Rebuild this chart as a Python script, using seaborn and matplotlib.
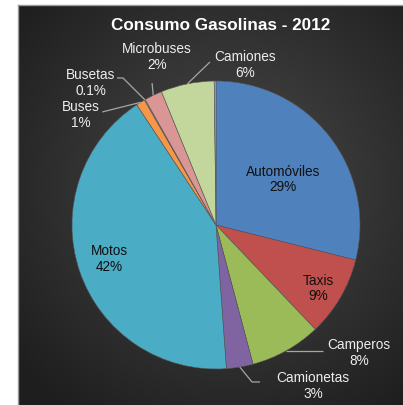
import numpy as np
import matplotlib
matplotlib.use("Agg")
import matplotlib.pyplot as plt
import seaborn as sns

# Gasoline consumption share by vehicle type, 2012
categorias = ["Automóviles", "Taxis", "Camperos", "Camionetas", "Motos",
              "Buses", "Busetas", "Microbuses", "Camiones", ""]
porcentajes = [29, 9, 8, 3, 42, 1, 0.1, 2, 6, 0.2]
colores_hex = ["#4F81BD", "#C0504D", "#9BBB59", "#8064A2", "#4BACC6",
               "#F79646", "#95B3D7", "#D99694", "#C3D69B", "#B3A2C7"]
titulo = "Consumo Gasolinas - 2012"

sns.set_theme(style="dark")
plt.rcParams["font.family"] = ["Liberation Sans", "DejaVu Sans"]
colores = sns.color_palette(colores_hex)

W, H = 403, 405
fig = plt.figure(figsize=(W / 100, H / 100), dpi=100)
fig.patch.set_facecolor("white")

# dark chart area with a soft radial gradient
bg_left, bg_top = 18, 5
bg = fig.add_axes([bg_left / W, 0, 1 - bg_left / W, 1 - bg_top / H])
bw, bh = W - bg_left, H - bg_top
yy, xx = np.mgrid[0:bh, 0:bw]
cx, cy = bw * 0.55, bh * 0.45
d = np.sqrt((xx - cx) ** 2 + (yy - cy) ** 2) / np.hypot(bw, bh) * 2.0
d = np.clip(d, 0, 1)
inner = np.array([0x4a, 0x4a, 0x4a]) / 255
outer = np.array([0x1e, 0x1e, 0x1e]) / 255
img = inner[None, None, :] * (1 - d[..., None]) + outer[None, None, :] * d[..., None]
bg.imshow(img, aspect="auto", extent=[0, 1, 0, 1], interpolation="bilinear")
bg.set_xlim(0, 1)
bg.set_ylim(0, 1)
bg.set_xticks([])
bg.set_yticks([])
for side, sp in bg.spines.items():
    sp.set_visible(side in ("left", "top"))
    sp.set_color("#9a9a9a")
    sp.set_linewidth(1.0)

fig.text(221 / W, 1 - 26 / H, titulo, color="white", fontsize=12.3,
         fontweight="bold", ha="center", va="center")

# pie axes: centre (216, 225) px, radius 144 px
R = 144
lim = 1.05
pcx, pcy = 216, 225
ax = fig.add_axes([(pcx - lim * R) / W, (H - pcy - lim * R) / H,
                   2 * lim * R / W, 2 * lim * R / H])
ax.set_facecolor("none")
wedges, _ = ax.pie(porcentajes, colors=colores, startangle=90, counterclock=False,
                   radius=1, wedgeprops=dict(linewidth=0.4, edgecolor="#555555"))
ax.set_xlim(-lim, lim)
ax.set_ylim(-lim, lim)
ax.set_aspect("auto")
ax.axis("off")

def borde(i):
    w = wedges[i]
    a = np.deg2rad((w.theta1 + w.theta2) / 2)
    return np.cos(a), np.sin(a)

def etiqueta(v):
    return f"{v:.1f}%" if v < 0.5 else f"{v:.0f}%"

# label block centres (axes data units) and leader-line bends
pos = {
    "Automóviles": ((0.465, 0.313), None, "#101010"),
    "Taxis": ((0.708, -0.444), None, "#101010"),
    "Camperos": ((0.993, -0.889), [(0.743, None)], "#ededed"),
    "Camionetas": ((0.674, -1.118), [(0.25, -1.09), (0.306, -1.09)], "#ededed"),
    "Motos": ((-0.743, -0.236), None, "#101010"),
    "Buses": ((-0.9375, 0.764), [(-0.79, 0.785)], "#ededed"),
    "Busetas": ((-0.868, 0.986), [(-0.646, 1.021), (-0.6875, 1.021)], "#ededed"),
    "Microbuses": ((-0.41, 1.167), [(-0.444, 0.986)], "#ededed"),
    "Camiones": ((0.201, 1.111), [(-0.042, 1.132)], "#ededed"),
}

for i, (cat, v) in enumerate(zip(categorias, porcentajes)):
    if not cat:
        continue
    (tx, ty), guia, col = pos[cat]
    ax.text(tx, ty, f"{cat}\n{etiqueta(v)}", ha="center", va="center",
            multialignment="center", fontsize=9.8, color=col,
            linespacing=1.1, clip_on=False)
    if guia:
        x0, y0 = borde(i)
        xs, ys = [x0], [y0]
        for gx, gy in guia:
            xs.append(gx)
            ys.append(y0 if gy is None else gy)
        ax.plot(xs, ys, color="#a6a6a6", lw=0.9, clip_on=False,
                solid_capstyle="butt")

fig.savefig("out.png", dpi=100, facecolor=fig.get_facecolor())
